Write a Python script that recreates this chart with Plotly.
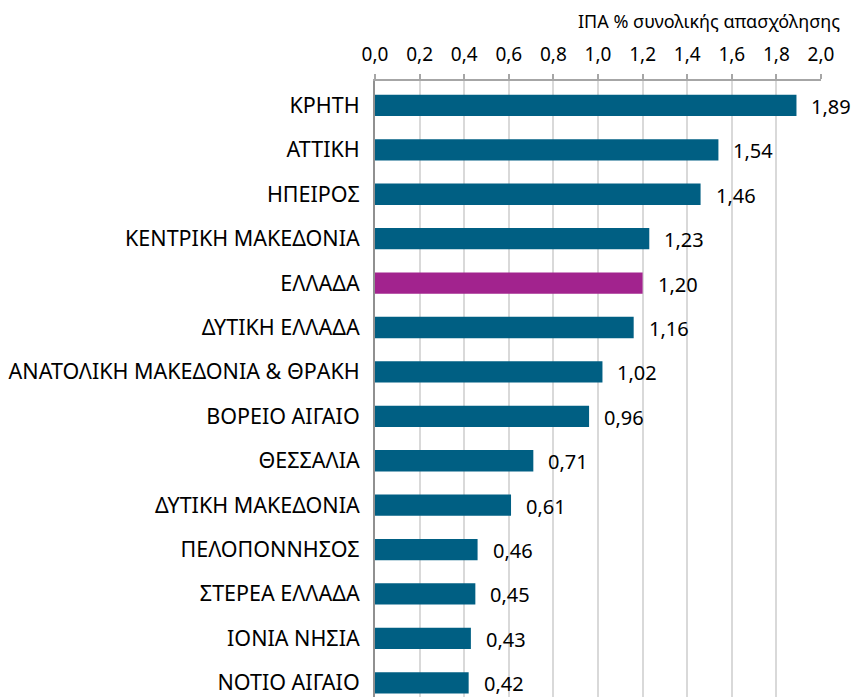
import plotly.graph_objects as go

regions = [
    "ΚΡΗΤΗ", "ΑΤΤΙΚΗ", "ΗΠΕΙΡΟΣ", "ΚΕΝΤΡΙΚΗ ΜΑΚΕΔΟΝΙΑ", "ΕΛΛΑΔΑ",
    "ΔΥΤΙΚΗ ΕΛΛΑΔΑ", "ΑΝΑΤΟΛΙΚΗ ΜΑΚΕΔΟΝΙΑ & ΘΡΑΚΗ", "ΒΟΡΕΙΟ ΑΙΓΑΙΟ",
    "ΘΕΣΣΑΛΙΑ", "ΔΥΤΙΚΗ ΜΑΚΕΔΟΝΙΑ", "ΠΕΛΟΠΟΝΝΗΣΟΣ", "ΣΤΕΡΕΑ ΕΛΛΑΔΑ",
    "ΙΟΝΙΑ ΝΗΣΙΑ", "ΝΟΤΙΟ ΑΙΓΑΙΟ",
]
values = [1.89, 1.54, 1.46, 1.23, 1.20, 1.16, 1.02, 0.96, 0.71, 0.61, 0.46, 0.45, 0.43, 0.42]
tick_vals = [0.0, 0.2, 0.4, 0.6, 0.8, 1.0, 1.2, 1.4, 1.6, 1.8, 2.0]
tick_text = [f"{v:.1f}".replace(".", ",") for v in tick_vals]
axis_title = "ΙΠΑ % συνολικής απασχόλησης"

BLUE = "#005F83"
PURPLE = "#A2238E"
colors = [PURPLE if r == "ΕΛΛΑΔΑ" else BLUE for r in regions]
FONT = "Noto Sans"

fig = go.Figure(
    go.Bar(
        x=values,
        y=regions,
        orientation="h",
        marker=dict(color=colors, line=dict(width=0)),
        width=0.48,
        hoverinfo="skip",
    )
)

for r, v in zip(regions, values):
    fig.add_annotation(
        x=v, y=r, xref="x", yref="y",
        text=f"{v:.2f}".replace(".", ","),
        showarrow=False, xanchor="left", yanchor="middle",
        xshift=13, yshift=-1,
        font=dict(family=FONT, size=20, color="#000000"),
    )

fig.add_annotation(
    x=1.047, y=1.0, xref="paper", yref="paper",
    yanchor="bottom", xanchor="right", yshift=46,
    text=axis_title, showarrow=False,
    font=dict(family=FONT, size=18, color="#000000"),
)

fig.update_layout(
    width=855, height=697,
    margin=dict(l=375, r=34, t=81, b=0),
    paper_bgcolor="white", plot_bgcolor="white",
    showlegend=False,
    xaxis=dict(
        side="top", range=[0, 2.0],
        tickvals=tick_vals, ticktext=tick_text,
        tickfont=dict(family=FONT, size=19, color="#000000"),
        showgrid=True, gridcolor="#D9D9D9", gridwidth=1.5,
        ticks="outside", ticklen=5, tickcolor="#A6A6A6", tickwidth=1.5,
        showline=True, linecolor="#A6A6A6", linewidth=1.5,
        zeroline=False, ticklabelstandoff=6,
    ),
    yaxis=dict(
        categoryorder="array", categoryarray=regions,
        range=[13.32, -0.55],
        tickfont=dict(family=FONT, size=21.5, color="#000000"),
        showline=True, linecolor="#909090", linewidth=2,
        ticks="", ticklabelstandoff=9,
        showgrid=False,
    ),
)

fig.write_html("out.html")
